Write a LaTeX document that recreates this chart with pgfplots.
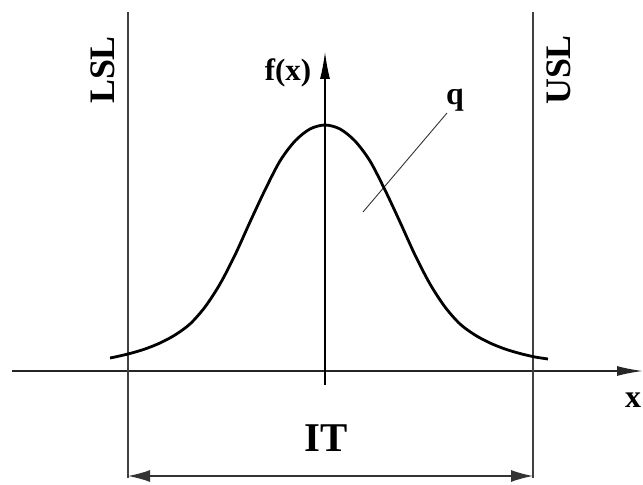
\documentclass[border=0pt]{standalone}
\usepackage{fontspec}
\setmainfont{Liberation Serif}
\usepackage{pgfplots}
\pgfplotsset{compat=1.18}
\usetikzlibrary{arrows.meta}
\begin{document}
\begin{tikzpicture}
\begin{axis}[width=643bp, height=485bp, scale only axis,
  xmin=0, xmax=643, ymin=0, ymax=485, hide axis, clip=false]
\coordinate (SW) at (axis cs:0,0);
\coordinate (NE) at (axis cs:643,485);
% x axis
\addplot[line width=1.6bp, black!85, -{Latex[length=26bp,width=10bp]}] coordinates {(12,114) (643,114)};
% y axis
\addplot[line width=1.3bp, black, -{Latex[length=27bp,width=10bp]}] coordinates {(325,100) (325,433)};
% LSL / USL lines
\addplot[line width=1.3bp, black!75] coordinates {(128,473) (128,7)};
\addplot[line width=1.3bp, black!75] coordinates {(533,473) (533,7)};
% IT dimension arrow
\addplot[line width=1.3bp, black!80, {Latex[length=22bp,width=12bp]}-{Latex[length=22bp,width=12bp]}] coordinates {(128,9) (533,9)};
% leader line
\addplot[line width=0.9bp, black!80] coordinates {(447,372) (363,273)};
% distribution curve
\addplot[line width=2.8bp, black, smooth] coordinates {
(110,127) (115,128) (130,131.5) (145,136) (160,142) (175,150) (190,161)
(205,178) (220,201) (235,230) (250,263) (265,295) (280,324) (295,344)
(310,356) (325,360) (340,356) (355,344) (370,324) (385,295) (400,263)
(415,230) (430,201) (445,178) (460,161) (475,150) (490,142) (505,136)
(520,131.5) (535,128) (548,126)};
% labels
\node[rotate=90, font=\fontsize{36}{36}\selectfont\bfseries] at (axis cs:103,415) {LSL};
\node[rotate=90, font=\fontsize{36}{36}\selectfont\bfseries] at (axis cs:559,415) {USL};
\node[font=\fontsize{31}{31}\selectfont\bfseries] at (axis cs:288,412) {f(x)};
\node[font=\fontsize{32}{32}\selectfont\bfseries] at (axis cs:455,385) {q};
\node[font=\fontsize{41}{41}\selectfont\bfseries] at (axis cs:326,47) {IT};
\node[font=\fontsize{32}{32}\selectfont\bfseries, inner sep=0pt] at (axis cs:633,85) {x};
\end{axis}
\pgfresetboundingbox
\path (SW) rectangle (NE);
\end{tikzpicture}
\end{document}
